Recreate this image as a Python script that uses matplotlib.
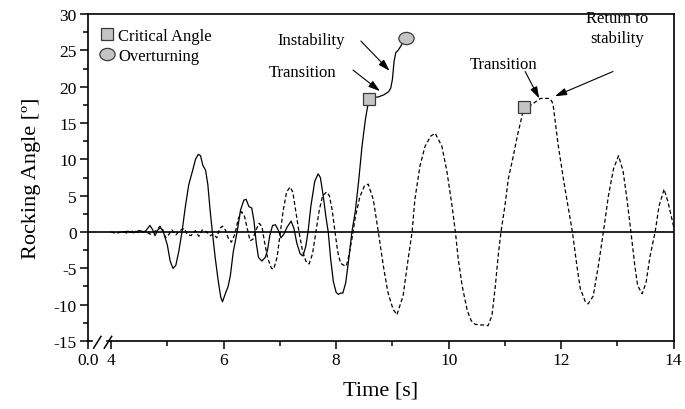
import numpy as np
import matplotlib
matplotlib.use('Agg')
import matplotlib.pyplot as plt
from matplotlib.path import Path
from matplotlib.transforms import Affine2D, blended_transform_factory

plt.rcParams['font.family'] = ['Liberation Serif', 'DejaVu Serif']
plt.rcParams['axes.unicode_minus'] = False

# overturning run (solid)
t_over = [4.20, 4.30, 4.40, 4.50, 4.60, 4.69, 4.74, 4.78, 4.83, 4.88, 4.93,
          5.00, 5.05, 5.10, 5.15, 5.20, 5.26, 5.32, 5.38, 5.45, 5.50, 5.55,
          5.59, 5.63, 5.68, 5.72, 5.76, 5.80, 5.85, 5.90, 5.95, 5.98, 6.03,
          6.08, 6.12, 6.17, 6.24, 6.30, 6.36, 6.40, 6.45, 6.50, 6.54, 6.58,
          6.62, 6.68, 6.74, 6.78, 6.82, 6.87, 6.92, 6.97, 7.02, 7.07, 7.13,
          7.20, 7.25, 7.30, 7.36, 7.41, 7.46, 7.50, 7.55, 7.62, 7.68, 7.72,
          7.77, 7.82, 7.86, 7.90, 7.95, 8.00, 8.04, 8.08, 8.12, 8.17, 8.22,
          8.28, 8.34, 8.40, 8.46, 8.52, 8.56, 8.59, 8.65, 8.75, 8.85, 8.93,
          8.97, 9.00, 9.03, 9.06, 9.10, 9.15, 9.20, 9.24]
a_over = [0.0, 0.1, -0.1, 0.2, 0.0, 0.9, 0.3, -0.5, 0.3, 0.6, 0.0,
          -1.8, -4.0, -5.0, -4.6, -2.8, 0.0, 3.5, 6.5, 8.5, 10.0, 10.7,
          10.5, 9.2, 8.5, 6.5, 3.0, 0.0, -3.5, -6.5, -9.0, -9.6, -8.5,
          -7.5, -6.0, -2.8, 0.0, 3.0, 4.4, 4.5, 3.5, 3.3, 1.5, -1.5,
          -3.5, -4.0, -3.5, -2.5, -0.5, 0.9, 1.0, 0.3, -0.8, -0.3, 0.7,
          1.5, 0.5, -1.5, -3.0, -3.3, -2.0, 0.0, 3.5, 7.0, 8.0, 7.5,
          5.0, 2.0, 0.0, -3.5, -6.8, -8.3, -8.6, -8.4, -8.4, -7.0, -4.0,
          0.0, 2.8, 7.0, 11.8, 15.5, 17.3, 18.3, 18.5, 18.6, 18.9, 19.3,
          19.8, 21.0, 23.5, 24.7, 25.0, 25.6, 26.3, 26.7]

# run that returns to stability (dashed)
t_stab = [4.00, 4.10, 4.20, 4.30, 4.40, 4.50, 4.60, 4.70, 4.80, 4.87, 4.92,
          4.97, 5.03, 5.08, 5.15, 5.22, 5.30, 5.35, 5.42, 5.50, 5.56, 5.62,
          5.70, 5.76, 5.82, 5.88, 5.93, 5.98, 6.03, 6.08, 6.14, 6.20, 6.26,
          6.32, 6.37, 6.42, 6.47, 6.52, 6.57, 6.63, 6.68, 6.73, 6.78, 6.85,
          6.89, 6.95, 7.00, 7.06, 7.12, 7.18, 7.23, 7.28, 7.34, 7.40, 7.46,
          7.52, 7.58, 7.64, 7.70, 7.76, 7.83, 7.88, 7.93, 7.98, 8.03, 8.08,
          8.14, 8.18, 8.22, 8.28, 8.34, 8.42, 8.50, 8.57, 8.66, 8.75, 8.84,
          8.92, 9.01, 9.08, 9.19, 9.28, 9.35, 9.40, 9.49, 9.58, 9.68, 9.76,
          9.88, 9.97, 10.06, 10.12, 10.17, 10.24, 10.33, 10.40, 10.47, 10.55,
          10.62, 10.70, 10.77, 10.83, 10.88, 10.93, 11.00, 11.06, 11.15,
          11.22, 11.29, 11.34, 11.45, 11.54, 11.63, 11.72, 11.80, 11.84,
          11.86, 11.95, 12.04, 12.12, 12.20, 12.28, 12.34, 12.43, 12.48,
          12.57, 12.66, 12.75, 12.84, 12.93, 13.02, 13.10, 13.17, 13.24,
          13.31, 13.36, 13.44, 13.51, 13.58, 13.67, 13.74, 13.83, 13.90, 14.00]
a_stab = [0.0, -0.2, 0.1, -0.2, 0.2, -0.1, 0.1, -0.3, 0.2, 0.8, 0.3,
          -0.8, -0.3, 0.3, -0.4, 0.2, 0.5, -0.3, -0.5, 0.2, -0.6, 0.3,
          0.0, -0.5, -0.3, -0.8, 0.5, 0.8, 0.3, -0.8, -1.4, -0.3, 1.8,
          2.8, 2.2, 0.5, -1.2, -1.0, 0.2, 1.2, 0.8, -1.5, -3.5, -5.0,
          -5.1, -3.5, -0.5, 3.0, 5.5, 6.2, 5.5, 3.0, 0.0, -2.5, -4.0,
          -4.4, -3.0, 0.0, 3.0, 5.0, 5.5, 5.0, 3.0, 0.0, -2.8, -4.3,
          -4.6, -4.7, -3.5, -1.0, 2.0, 4.8, 6.3, 6.6, 4.5, 0.0, -4.7,
          -8.3, -10.6, -11.4, -8.8, -3.7, 0.0, 4.5, 9.1, 11.8, 13.2, 13.6,
          11.8, 8.3, 3.6, 0.0, -3.7, -7.4, -10.8, -12.2, -12.7, -12.8,
          -12.8, -12.9, -11.5, -7.4, -3.3, 0.0, 3.6, 7.3, 10.5,
          13.2, 15.5, 17.2, 17.4, 17.9, 18.4, 18.4, 18.4, 17.9,
          17.3, 11.8, 7.3, 3.6, 0.0, -4.7, -7.8, -9.6, -9.9,
          -8.8, -4.7, 0.0, 5.0, 8.7, 10.5, 8.4, 4.5, 0.0,
          -4.7, -7.4, -8.5, -6.9, -3.3, 0.0, 3.6, 5.9, 4.1, 0.7]

# markers
crit_t = [8.59, 11.34]
crit_a = [18.3, 17.2]
over_t = [9.24]
over_a = [26.7]

xticks = [4, 6, 8, 10, 12, 14]
x_left = 3.59

ellipse = Path.unit_circle().transformed(Affine2D().scale(1.0, 0.8))
grey = '#c4c4c4'
edge = '#3a3a3a'

fig = plt.figure(figsize=(6.85, 4.10), dpi=100)
ax = fig.add_axes([0.1285, 0.166, 0.855, 0.797])

ax.axhline(0, color='k', lw=1.2, zorder=1)
ax.plot(t_over, a_over, color='k', lw=0.9, zorder=2)
ax.plot(t_stab, a_stab, color='k', lw=0.9, dashes=(3.2, 2.0), zorder=2)

ax.plot(crit_t, crit_a, ls='none', marker='s', ms=8, mfc=grey, mec=edge,
        mew=0.9, zorder=4, label='Critical Angle')
ax.plot(over_t, over_a, ls='none', marker=ellipse, ms=11, mfc=grey, mec=edge,
        mew=0.9, zorder=4, label='Overturning')

ax.set_xlim(x_left, 14)
ax.set_ylim(-15, 30)
ax.set_xticks([x_left] + xticks)
ax.set_xticklabels(['0.0'] + [str(v) for v in xticks])
ax.set_xticks([5, 7, 9, 11, 13], minor=True)
ax.set_yticks(np.arange(-15, 31, 5))
ax.set_yticks(np.arange(-12.5, 30, 5), minor=True)
ax.tick_params(axis='both', which='major', direction='out', length=6,
               width=1.1, labelsize=12.5, pad=2)
ax.tick_params(axis='both', which='minor', direction='out', length=3.5,
               width=1.1)
for s in ax.spines.values():
    s.set_linewidth(1.2)

ax.set_xlabel('Time [s]', fontsize=16, labelpad=9)
ax.set_ylabel('Rocking Angle [º]', fontsize=16, labelpad=9)

# axis break marks
trans = blended_transform_factory(ax.transData, ax.transAxes)
ax.plot([3.70, 3.88], [0, 0], color='white', lw=2.5, transform=trans,
        clip_on=False, zorder=5)
for x0 in [3.69, 3.88]:
    ax.plot([x0, x0 + 0.13], [-0.022, 0.014], color='k', lw=1.1,
            transform=trans, clip_on=False, zorder=6)

leg = ax.legend(loc='upper left', frameon=False, fontsize=12,
                handletextpad=0.2, labelspacing=0.28, borderaxespad=0.4,
                handlelength=1.0, bbox_to_anchor=(-0.005, 1.0))

ap = dict(arrowstyle='-|>,head_length=0.7,head_width=0.22', color='k',
          lw=0.8, shrinkA=0, shrinkB=0)
ax.text(7.56, 26.4, 'Instability', fontsize=12, ha='center', va='center')
ax.annotate('', xy=(8.95, 22.2), xytext=(8.44, 26.3), arrowprops=ap)
ax.text(7.41, 22.1, 'Transition', fontsize=12, ha='center', va='center')
ax.annotate('', xy=(8.78, 19.4), xytext=(8.30, 22.3), arrowprops=ap)
ax.text(10.97, 23.2, 'Transition', fontsize=12, ha='center', va='center')
ax.annotate('', xy=(11.61, 18.4), xytext=(11.36, 22.1), arrowprops=ap)
ax.text(13.0, 28.1, 'Return to\nstability', fontsize=12, ha='center',
        va='center', linespacing=1.3)
ax.annotate('', xy=(11.89, 18.7), xytext=(12.92, 22.1), arrowprops=ap)

fig.savefig('out.png', dpi=100)
